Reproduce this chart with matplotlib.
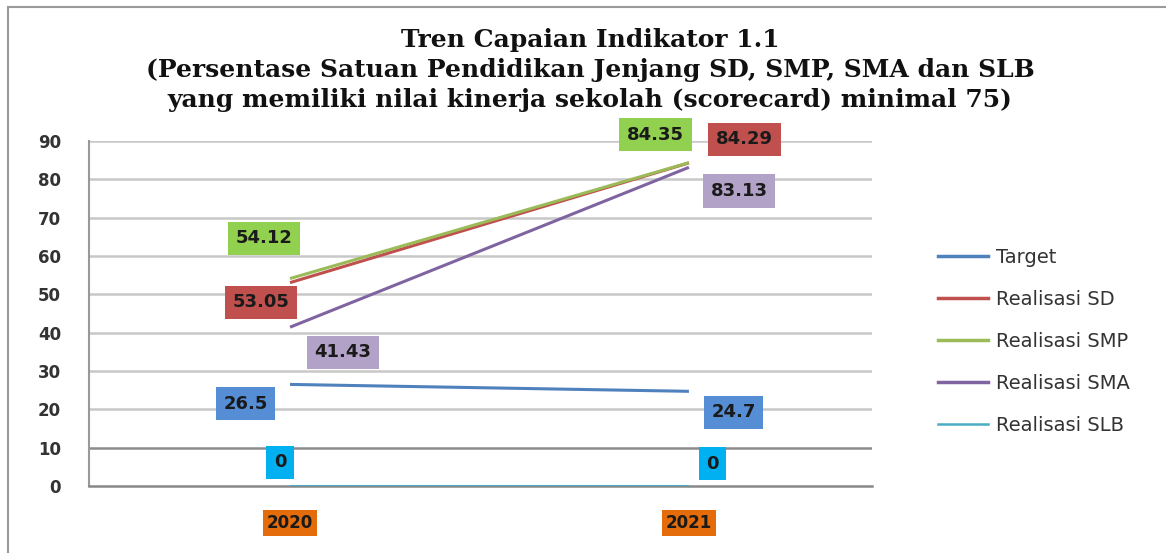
import matplotlib
matplotlib.use("Agg")
import matplotlib.pyplot as plt
from matplotlib.patches import Rectangle
from matplotlib.lines import Line2D

years = ["2020", "2021"]
series_names = ["Target", "Realisasi SD", "Realisasi SMP", "Realisasi SMA", "Realisasi SLB"]
target = [26.5, 24.7]
real_sd = [53.05, 84.29]
real_smp = [54.12, 84.35]
real_sma = [41.43, 83.13]
real_slb = [0, 0]
yticks = [0, 10, 20, 30, 40, 50, 60, 70, 80, 90]

series = [target, real_sd, real_smp, real_sma, real_slb]
line_colors = ["#4F81BD", "#C0504D", "#9BBB59", "#8064A2", "#4BACC6"]
box_colors = ["#558ED5", "#C0504D", "#92D050", "#B3A2C7", "#00B0F0"]
# label offsets (points) per series per year
offsets = [
    [(-32, -14), (32, -15)],
    [(-21, -14), (40, 17)],
    [(-19, 29), (-24, 20)],
    [(38, -18), (36, -17)],
    [(-7, 17), (17, 16)],
]

W, H = 1166, 553
fig = plt.figure(figsize=(W / 100, H / 100), dpi=100)
ax = fig.add_axes([89 / W, (H - 486) / H, (872 - 89) / W, (486 - 141) / H])

x = [0, 1]
handles = []
for s, name, lc, bc, offs in zip(series, series_names, line_colors, box_colors, offsets):
    lw = 2.2 if name != "Realisasi SLB" else 1.5
    ax.plot(x, s, color=lc, lw=lw, solid_capstyle="butt", zorder=3)
    handles.append(Line2D([0], [0], color=lc, lw=2.5 if lw > 2 else 1.8))
    for xi, v, off in zip(x, s, offs):
        txt = f"{v:g}"
        ax.annotate(txt, (xi, v), xytext=off, textcoords="offset points",
                    ha="center", va="center", fontsize=13, fontweight="bold",
                    color="#1a1a1a", family="DejaVu Sans",
                    bbox=dict(boxstyle="square,pad=0.42", fc=bc, ec="none"),
                    zorder=5, annotation_clip=False)

ax.set_xlim(-0.504, 1.459)
ax.set_ylim(0, 90)
ax.set_yticks(yticks)
ax.set_yticklabels([str(t) for t in yticks], fontsize=12, fontweight="bold", color="#333333")
ax.tick_params(axis="y", length=0, pad=20)
ax.set_xticks(x)
ax.set_xticklabels(years, fontsize=12, fontweight="bold", color="#1a1a1a")
for lbl in ax.get_xticklabels():
    lbl.set_bbox(dict(boxstyle="square,pad=0.25", fc="#E46C0A", ec="none"))
ax.tick_params(axis="x", length=0, pad=20)

for t in yticks[1:]:
    c = "#8C8C8C" if t == 10 else "#C8C8C8"
    ax.axhline(t, color=c, lw=1.8, zorder=1)
for sp in ["top", "right"]:
    ax.spines[sp].set_visible(False)
ax.spines["left"].set_color("#999999")
ax.spines["left"].set_linewidth(1.5)
ax.spines["bottom"].set_color("#888888")
ax.spines["bottom"].set_linewidth(1.8)

leg = fig.legend(handles, series_names, loc="upper left",
                 bbox_to_anchor=(930 / W, 1 - 240 / H), frameon=False,
                 fontsize=14, handlelength=2.6, labelspacing=1.18,
                 handletextpad=0.4, borderaxespad=0)
for t in leg.get_texts():
    t.set_color("#333333")

titles = ["Tren Capaian Indikator 1.1",
          "(Persentase Satuan Pendidikan Jenjang SD, SMP, SMA dan SLB",
          "yang memiliki nilai kinerja sekolah (scorecard) minimal 75)"]
for i, t in enumerate(titles):
    fig.text(590 / W, 1 - (40 + 30 * i) / H, t, ha="center", va="center",
             fontsize=18, fontweight="bold", family="DejaVu Serif", color="#111111")

fig.patches.append(Rectangle((8 / W, -0.1), 1.2, 1.1 - 7 / H,
                             transform=fig.transFigure, fill=False,
                             ec="#9A9A9A", lw=1.5))

fig.savefig("out.png", dpi=100)
